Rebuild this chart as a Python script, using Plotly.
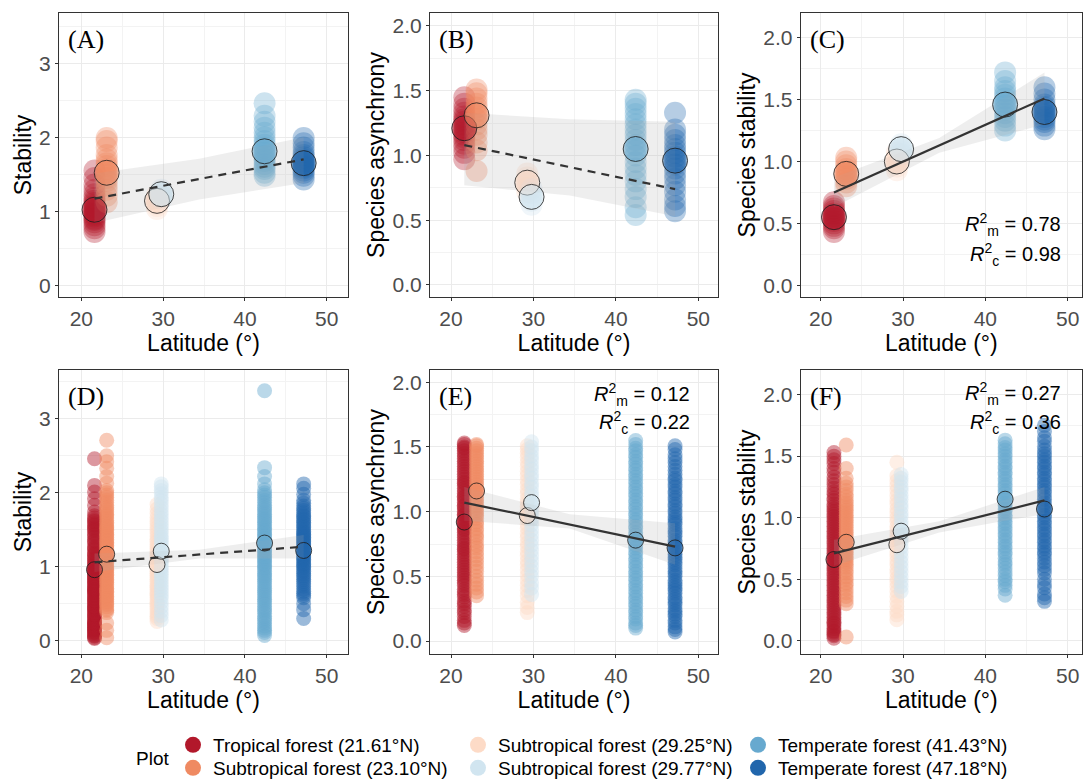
import plotly.graph_objects as go

W, H = 1083, 780

# ---------------------------------------------------------------- sites
SITE_NAMES = [
    "Tropical forest (21.61°N)",
    "Subtropical forest (23.10°N)",
    "Subtropical forest (29.25°N)",
    "Subtropical forest (29.77°N)",
    "Temperate forest (41.43°N)",
    "Temperate forest (47.18°N)",
]
SITE_LAT = [21.61, 23.10, 29.25, 29.77, 42.40, 47.18]
SITE_COLORS = ["#B2182B", "#EF8A62", "#FDDBC7", "#D1E5F0", "#67A9CF", "#2166AC"]

FIT_LAT = [21.61, 47.18]
BAND_LAT = [21.61, 34.40, 47.18]

# ---------------------------------------------------------------- (A) community stability, plot level
A_POINTS = [
    [0.72, 0.77, 0.81, 0.85, 0.88, 0.90, 0.93, 0.95, 0.97, 0.99, 1.01, 1.03, 1.06, 1.08, 1.11, 1.14, 1.18, 1.23, 1.29, 1.36, 1.45, 1.55],
    [1.12, 1.21, 1.29, 1.35, 1.41, 1.45, 1.49, 1.53, 1.57, 1.61, 1.65, 1.70, 1.76, 1.86, 1.95, 1.99],
    [1.03, 1.07, 1.10, 1.13, 1.16, 1.19, 1.22],
    [1.17, 1.20, 1.23, 1.26, 1.29],
    [1.48, 1.52, 1.57, 1.60, 1.64, 1.68, 1.71, 1.75, 1.79, 1.82, 1.86, 1.90, 1.95, 2.00, 2.06, 2.13, 2.21, 2.29, 2.46],
    [1.43, 1.48, 1.52, 1.55, 1.58, 1.60, 1.62, 1.64, 1.66, 1.68, 1.70, 1.73, 1.76, 1.80, 1.86, 1.92, 1.99],
]
A_MEANS = [1.02, 1.52, 1.14, 1.23, 1.81, 1.65]
A_FIT = [1.17, 1.70]
A_BAND_LO = [0.84, 1.16, 1.38]
A_BAND_HI = [1.51, 1.71, 2.00]

# ---------------------------------------------------------------- (B) species asynchrony, plot level
B_POINTS = [
    [0.97, 1.02, 1.06, 1.09, 1.12, 1.14, 1.16, 1.18, 1.20, 1.22, 1.24, 1.26, 1.28, 1.30, 1.33, 1.36, 1.40, 1.45],
    [0.88, 1.04, 1.10, 1.16, 1.20, 1.24, 1.28, 1.31, 1.34, 1.37, 1.40, 1.44, 1.48, 1.51],
    [0.72, 0.75, 0.78, 0.80, 0.83, 0.86],
    [0.62, 0.65, 0.68, 0.71, 0.74],
    [0.54, 0.60, 0.68, 0.74, 0.80, 0.85, 0.90, 0.95, 1.00, 1.04, 1.08, 1.12, 1.16, 1.20, 1.24, 1.28, 1.32, 1.36, 1.40, 1.43],
    [0.57, 0.61, 0.66, 0.72, 0.77, 0.82, 0.86, 0.90, 0.93, 0.96, 0.99, 1.02, 1.05, 1.08, 1.12, 1.16, 1.20, 1.33],
]
B_MEANS = [1.21, 1.31, 0.79, 0.68, 1.05, 0.96]
B_FIT = [1.08, 0.74]
B_BAND_LO = [0.77, 0.69, 0.53]
B_BAND_HI = [1.33, 1.28, 1.26]

# ---------------------------------------------------------------- (C) species stability, plot level
C_POINTS = [
    [0.43, 0.46, 0.48, 0.50, 0.52, 0.54, 0.55, 0.56, 0.58, 0.60, 0.62, 0.64, 0.67],
    [0.80, 0.83, 0.86, 0.88, 0.90, 0.92, 0.94, 0.97, 1.00, 1.03],
    [0.93, 0.96, 0.99, 1.01, 1.04, 1.07],
    [1.06, 1.08, 1.10, 1.12, 1.14],
    [1.25, 1.29, 1.33, 1.36, 1.39, 1.42, 1.45, 1.48, 1.51, 1.54, 1.57, 1.60, 1.65, 1.72],
    [1.26, 1.29, 1.32, 1.34, 1.36, 1.38, 1.40, 1.42, 1.44, 1.46, 1.50, 1.55, 1.60],
]
C_MEANS = [0.55, 0.90, 1.00, 1.10, 1.46, 1.40]
C_FIT = [0.75, 1.51]
C_BAND_LO = [0.63, 1.07, 1.30]
C_BAND_HI = [0.87, 1.19, 1.72]

# ---------------------------------------------------------------- (D) community stability, quadrat level
D_POINTS = [
    [0.03, 0.04, 0.06, 0.07, 0.09, 0.11, 0.12, 0.14, 0.15, 0.17, 0.18, 0.20, 0.21, 0.23, 0.24, 0.25, 0.27, 0.29,
     0.31, 0.33, 0.35, 0.36, 0.38, 0.41, 0.43, 0.44, 0.46, 0.47, 0.50, 0.52, 0.54, 0.55, 0.57, 0.59, 0.61, 0.63,
     0.65, 0.67, 0.68, 0.70, 0.71, 0.73, 0.75, 0.77, 0.79, 0.80, 0.82, 0.84, 0.86, 0.87, 0.89, 0.91, 0.93, 0.95,
     0.96, 0.99, 1.01, 1.03, 1.05, 1.08, 1.10, 1.12, 1.15, 1.17, 1.19, 1.23, 1.25, 1.27, 1.31, 1.34, 1.36, 1.40,
     1.43, 1.45, 1.49, 1.51, 1.53, 1.56, 1.58, 1.61, 1.63, 1.66, 1.69, 1.74, 1.83, 1.92, 2.01, 2.10, 2.46],
    [0.04, 0.14, 0.24, 0.38, 0.41, 0.43, 0.46, 0.49, 0.51, 0.53, 0.56, 0.58, 0.60, 0.62, 0.65, 0.67, 0.69, 0.71,
     0.74, 0.76, 0.79, 0.81, 0.83, 0.85, 0.88, 0.90, 0.92, 0.95, 0.97, 0.99, 1.01, 1.04, 1.06, 1.09, 1.11, 1.13,
     1.16, 1.18, 1.20, 1.22, 1.24, 1.27, 1.29, 1.31, 1.33, 1.35, 1.37, 1.40, 1.42, 1.44, 1.46, 1.49, 1.51, 1.53,
     1.55, 1.58, 1.60, 1.63, 1.66, 1.69, 1.71, 1.74, 1.77, 1.80, 1.83, 1.87, 1.90, 1.94, 1.97, 2.00, 2.03, 2.13,
     2.22, 2.33, 2.42, 2.50, 2.71],
    [0.26, 0.30, 0.33, 0.36, 0.39, 0.43, 0.46, 0.49, 0.52, 0.55, 0.58, 0.61, 0.63, 0.66, 0.69, 0.72, 0.74, 0.77,
     0.80, 0.83, 0.86, 0.88, 0.91, 0.94, 0.96, 0.99, 1.02, 1.05, 1.07, 1.10, 1.12, 1.15, 1.18, 1.21, 1.24, 1.27,
     1.30, 1.34, 1.37, 1.41, 1.45, 1.49, 1.53, 1.58, 1.62, 1.67, 1.72, 1.78, 1.84],
    [0.28, 0.34, 0.40, 0.46, 0.52, 0.57, 0.61, 0.66, 0.70, 0.74, 0.78, 0.82, 0.86, 0.90, 0.93, 0.97, 1.00, 1.04,
     1.07, 1.10, 1.13, 1.17, 1.20, 1.24, 1.27, 1.31, 1.34, 1.38, 1.41, 1.45, 1.49, 1.53, 1.57, 1.62, 1.66, 1.71,
     1.75, 1.80, 1.85, 1.90, 1.94, 1.99, 2.03, 2.08, 2.12],
    [0.07, 0.11, 0.14, 0.17, 0.20, 0.24, 0.27, 0.30, 0.33, 0.37, 0.40, 0.43, 0.46, 0.50, 0.53, 0.56, 0.59, 0.62,
     0.65, 0.68, 0.71, 0.74, 0.77, 0.80, 0.83, 0.86, 0.88, 0.91, 0.94, 0.97, 0.99, 1.02, 1.04, 1.07, 1.09, 1.12,
     1.14, 1.17, 1.19, 1.22, 1.24, 1.27, 1.29, 1.32, 1.34, 1.37, 1.39, 1.42, 1.44, 1.47, 1.49, 1.52, 1.54, 1.57,
     1.60, 1.63, 1.65, 1.68, 1.71, 1.74, 1.77, 1.80, 1.83, 1.87, 1.90, 1.94, 1.97, 2.00, 2.04, 2.12, 2.22, 2.34, 3.38],
    [0.30, 0.42, 0.50, 0.58, 0.61, 0.64, 0.67, 0.70, 0.74, 0.77, 0.80, 0.83, 0.86, 0.88, 0.91, 0.94, 0.96, 0.99,
     1.01, 1.03, 1.05, 1.08, 1.10, 1.12, 1.14, 1.16, 1.18, 1.20, 1.22, 1.24, 1.26, 1.28, 1.30, 1.32, 1.34, 1.36,
     1.38, 1.40, 1.42, 1.44, 1.46, 1.48, 1.50, 1.53, 1.55, 1.58, 1.60, 1.63, 1.65, 1.68, 1.70, 1.73, 1.76, 1.79,
     1.82, 1.86, 1.90, 1.98, 2.06, 2.12],
]
D_MEANS = [0.96, 1.17, 1.03, 1.21, 1.32, 1.22]
D_FIT = [1.06, 1.27]
D_BAND_LO = [0.93, 1.11, 1.11]
D_BAND_HI = [1.18, 1.23, 1.43]

# ---------------------------------------------------------------- (E) species asynchrony, quadrat level
E_POINTS = [
    [0.12, 0.14, 0.16, 0.19, 0.22, 0.24, 0.27, 0.29, 0.31, 0.34, 0.36, 0.38, 0.40, 0.43, 0.45, 0.47, 0.49, 0.51,
     0.53, 0.55, 0.57, 0.59, 0.61, 0.63, 0.65, 0.67, 0.69, 0.71, 0.72, 0.74, 0.76, 0.78, 0.80, 0.82, 0.84, 0.86,
     0.87, 0.89, 0.91, 0.93, 0.95, 0.97, 0.98, 1.00, 1.02, 1.04, 1.05, 1.07, 1.09, 1.11, 1.12, 1.14, 1.16, 1.18,
     1.20, 1.22, 1.23, 1.25, 1.27, 1.29, 1.31, 1.33, 1.35, 1.37, 1.39, 1.41, 1.43, 1.45, 1.47, 1.49, 1.50, 1.52, 1.53],
    [0.35, 0.38, 0.41, 0.44, 0.47, 0.50, 0.54, 0.57, 0.60, 0.63, 0.66, 0.69, 0.72, 0.74, 0.77, 0.80, 0.82, 0.85,
     0.87, 0.90, 0.92, 0.95, 0.97, 0.99, 1.01, 1.03, 1.05, 1.07, 1.09, 1.11, 1.13, 1.15, 1.17, 1.19, 1.21, 1.23,
     1.25, 1.27, 1.29, 1.31, 1.33, 1.35, 1.37, 1.39, 1.41, 1.43, 1.45, 1.47, 1.49, 1.51, 1.52],
    [0.22, 0.26, 0.30, 0.35, 0.39, 0.43, 0.47, 0.51, 0.55, 0.59, 0.62, 0.66, 0.69, 0.73, 0.76, 0.80, 0.83, 0.87,
     0.90, 0.94, 0.97, 1.01, 1.04, 1.07, 1.10, 1.14, 1.17, 1.21, 1.24, 1.28, 1.31, 1.35, 1.38, 1.42, 1.45, 1.48, 1.51],
    [0.36, 0.41, 0.45, 0.50, 0.54, 0.58, 0.62, 0.66, 0.70, 0.74, 0.78, 0.82, 0.86, 0.90, 0.94, 0.98, 1.01, 1.05,
     1.08, 1.12, 1.15, 1.19, 1.22, 1.26, 1.29, 1.33, 1.36, 1.40, 1.43, 1.47, 1.50, 1.54],
    [0.10, 0.12, 0.14, 0.17, 0.19, 0.22, 0.24, 0.27, 0.29, 0.32, 0.34, 0.37, 0.39, 0.42, 0.44, 0.47, 0.49, 0.52,
     0.54, 0.57, 0.59, 0.62, 0.64, 0.67, 0.69, 0.72, 0.74, 0.77, 0.79, 0.82, 0.84, 0.87, 0.89, 0.92, 0.94, 0.97,
     0.99, 1.02, 1.04, 1.07, 1.09, 1.12, 1.14, 1.17, 1.19, 1.22, 1.24, 1.27, 1.29, 1.32, 1.34, 1.37, 1.39, 1.42,
     1.44, 1.47, 1.49, 1.52, 1.55],
    [0.07, 0.09, 0.11, 0.14, 0.16, 0.19, 0.21, 0.23, 0.25, 0.28, 0.30, 0.32, 0.34, 0.37, 0.39, 0.41, 0.43, 0.45,
     0.47, 0.50, 0.52, 0.54, 0.56, 0.59, 0.61, 0.63, 0.65, 0.67, 0.69, 0.72, 0.74, 0.76, 0.78, 0.81, 0.83, 0.85,
     0.87, 0.90, 0.92, 0.94, 0.96, 0.99, 1.01, 1.04, 1.06, 1.09, 1.11, 1.14, 1.16, 1.19, 1.21, 1.24, 1.26, 1.29,
     1.32, 1.35, 1.38, 1.41, 1.44, 1.48, 1.51],
]
E_MEANS = [0.92, 1.16, 0.97, 1.07, 0.78, 0.72]
E_FIT = [1.07, 0.73]
E_BAND_LO = [0.93, 0.87, 0.59]
E_BAND_HI = [1.19, 0.98, 0.91]

# ---------------------------------------------------------------- (F) species stability, quadrat level
F_POINTS = [
    [0.02, 0.04, 0.05, 0.07, 0.08, 0.10, 0.12, 0.14, 0.15, 0.17, 0.19, 0.21, 0.23, 0.25, 0.27, 0.29, 0.31, 0.33,
     0.35, 0.37, 0.39, 0.41, 0.43, 0.45, 0.47, 0.49, 0.51, 0.53, 0.55, 0.57, 0.59, 0.61, 0.63, 0.65, 0.67, 0.69,
     0.71, 0.73, 0.75, 0.77, 0.79, 0.81, 0.83, 0.85, 0.87, 0.89, 0.91, 0.93, 0.95, 0.97, 0.99, 1.01, 1.03, 1.05,
     1.07, 1.09, 1.11, 1.14, 1.16, 1.19, 1.21, 1.24, 1.27, 1.30, 1.33, 1.37, 1.40, 1.44, 1.47, 1.50, 1.53],
    [0.03, 0.30, 0.33, 0.36, 0.39, 0.42, 0.45, 0.47, 0.50, 0.52, 0.55, 0.57, 0.60, 0.62, 0.64, 0.66, 0.68, 0.70,
     0.72, 0.74, 0.76, 0.78, 0.80, 0.82, 0.84, 0.86, 0.88, 0.90, 0.92, 0.94, 0.96, 0.98, 1.00, 1.02, 1.04, 1.06,
     1.08, 1.10, 1.12, 1.14, 1.17, 1.19, 1.22, 1.25, 1.28, 1.32, 1.40, 1.59],
    [0.17, 0.21, 0.24, 0.28, 0.32, 0.36, 0.40, 0.44, 0.48, 0.51, 0.55, 0.58, 0.62, 0.65, 0.69, 0.72, 0.76, 0.79,
     0.83, 0.86, 0.90, 0.93, 0.97, 1.00, 1.04, 1.07, 1.11, 1.14, 1.18, 1.22, 1.26, 1.30, 1.34, 1.45],
    [0.40, 0.44, 0.48, 0.52, 0.56, 0.60, 0.64, 0.68, 0.72, 0.76, 0.80, 0.83, 0.87, 0.90, 0.94, 0.97, 1.01, 1.04,
     1.08, 1.11, 1.15, 1.18, 1.22, 1.25, 1.29, 1.32, 1.35],
    [0.37, 0.42, 0.45, 0.48, 0.50, 0.53, 0.56, 0.59, 0.62, 0.64, 0.67, 0.70, 0.72, 0.75, 0.77, 0.80, 0.82, 0.85,
     0.87, 0.90, 0.92, 0.95, 0.97, 1.00, 1.02, 1.05, 1.07, 1.10, 1.12, 1.15, 1.17, 1.20, 1.22, 1.25, 1.27, 1.30,
     1.32, 1.35, 1.37, 1.40, 1.42, 1.45, 1.47, 1.50, 1.52, 1.55, 1.57, 1.60, 1.63],
    [0.32, 0.35, 0.38, 0.43, 0.46, 0.50, 0.55, 0.58, 0.61, 0.64, 0.67, 0.70, 0.72, 0.75, 0.77, 0.80, 0.82, 0.85,
     0.87, 0.90, 0.92, 0.95, 0.97, 1.00, 1.02, 1.05, 1.07, 1.10, 1.12, 1.15, 1.17, 1.20, 1.22, 1.25, 1.27, 1.30,
     1.32, 1.35, 1.37, 1.40, 1.42, 1.45, 1.47, 1.50, 1.52, 1.55, 1.58, 1.62, 1.65, 1.70, 1.75],
]
F_MEANS = [0.66, 0.80, 0.78, 0.89, 1.15, 1.07]
F_FIT = [0.71, 1.14]
F_BAND_LO = [0.61, 0.88, 1.03]
F_BAND_HI = [0.82, 0.97, 1.25]

# marginal / conditional R² of the mixed models
R2_M = [None, None, "0.78", None, "0.12", "0.27"]
R2_C = [None, None, "0.98", None, "0.22", "0.36"]

# ---------------------------------------------------------------- panel settings
panels = [
    dict(tag="(A)", ytitle="Stability", pts=A_POINTS, means=A_MEANS, fit=A_FIT, lo=A_BAND_LO, hi=A_BAND_HI,
         dashed=True, box=(59, 348, 13, 297), xr=[17.27, 52.6], yr=[-0.16, 3.68], dtick=1, fmt="d",
         size=22, msize=25, alpha=0.33, r2y=None),
    dict(tag="(B)", ytitle="Species asynchrony", pts=B_POINTS, means=B_MEANS, fit=B_FIT, lo=B_BAND_LO,
         hi=B_BAND_HI, dashed=True, box=(430, 718, 13, 297), xr=[17.45, 52.39], yr=[-0.093, 2.10], dtick=0.5,
         fmt=".1f", size=22, msize=25, alpha=0.33, r2y=None),
    dict(tag="(C)", ytitle="Species stability", pts=C_POINTS, means=C_MEANS, fit=C_FIT, lo=C_BAND_LO,
         hi=C_BAND_HI, dashed=False, box=(800.7, 1082, 13, 297), xr=[17.57, 51.74], yr=[-0.095, 2.2],
         dtick=0.5, fmt=".1f", size=22, msize=25, alpha=0.33, r2y=(225, 255), r2x=1063),
    dict(tag="(D)", ytitle="Stability", pts=D_POINTS, means=D_MEANS, fit=D_FIT, lo=D_BAND_LO, hi=D_BAND_HI,
         dashed=True, box=(59, 348, 370, 654), xr=[17.27, 52.6], yr=[-0.18, 3.66], dtick=1, fmt="d",
         size=15, msize=16, alpha=0.45, r2y=None),
    dict(tag="(E)", ytitle="Species asynchrony", pts=E_POINTS, means=E_MEANS, fit=E_FIT, lo=E_BAND_LO,
         hi=E_BAND_HI, dashed=False, box=(430, 718, 370, 654), xr=[17.45, 52.39], yr=[-0.1, 2.095],
         dtick=0.5, fmt=".1f", size=15, msize=16, alpha=0.45, r2y=(394, 422), r2x=692),
    dict(tag="(F)", ytitle="Species stability", pts=F_POINTS, means=F_MEANS, fit=F_FIT, lo=F_BAND_LO,
         hi=F_BAND_HI, dashed=False, box=(800.7, 1082, 370, 654), xr=[17.57, 51.74], yr=[-0.108, 2.2],
         dtick=0.5, fmt=".1f", size=15, msize=16, alpha=0.45, r2y=(393, 422), r2x=1063),
]

# legend slots: (column centre of the key, row centre) for each site
LEGEND_SLOTS = [(193, 745), (193, 768), (478, 745), (478, 768), (758, 745), (758, 768)]


def rgba(hex_color, alpha):
    h = hex_color.lstrip("#")
    r, g, b = int(h[0:2], 16), int(h[2:4], 16), int(h[4:6], 16)
    return f"rgba({r},{g},{b},{alpha})"


SANS = "Liberation Sans, Arial, sans-serif"
SERIF = "Liberation Serif, Times New Roman, serif"
GRID = "#EBEBEB"
GRID_MINOR = "#F3F3F3"
BORDER = "#333333"

fig = go.Figure()
annotations = []
layout_extra = {}

for i, p in enumerate(panels):
    n = i + 1
    xa, ya = ("x", "y") if n == 1 else (f"x{n}", f"y{n}")

    # individual observations, one column per site
    for s, vals in enumerate(p["pts"]):
        fig.add_trace(go.Scatter(
            x=[SITE_LAT[s]] * len(vals), y=vals, xaxis=xa, yaxis=ya, mode="markers",
            marker=dict(size=p["size"], color=rgba(SITE_COLORS[s], p["alpha"]), line=dict(width=0)),
            showlegend=False, hoverinfo="skip"))

    # confidence band of the fitted latitude effect
    fig.add_trace(go.Scatter(
        x=BAND_LAT + BAND_LAT[::-1], y=p["hi"] + p["lo"][::-1], xaxis=xa, yaxis=ya,
        mode="lines", fill="toself", fillcolor="rgba(170,170,170,0.2)", line=dict(width=0),
        showlegend=False, hoverinfo="skip"))

    # site means
    fig.add_trace(go.Scatter(
        x=SITE_LAT, y=p["means"], xaxis=xa, yaxis=ya, mode="markers",
        marker=dict(size=p["msize"], color=[rgba(c, 0.5) for c in SITE_COLORS],
                    line=dict(color="#1A1A1A", width=0.8)),
        showlegend=False, hoverinfo="skip"))

    # fitted line
    fig.add_trace(go.Scatter(
        x=FIT_LAT, y=p["fit"], xaxis=xa, yaxis=ya, mode="lines",
        line=dict(color=BORDER, width=2.2, dash="8px,6px" if p["dashed"] else "solid"),
        showlegend=False, hoverinfo="skip"))

    x0, x1, y0, y1 = p["box"]
    axis_common = dict(
        showline=True, mirror=True, linecolor=BORDER, linewidth=1,
        ticks="outside", ticklen=3, tickcolor=BORDER, tickwidth=1,
        showgrid=True, gridcolor=GRID, gridwidth=1, zeroline=False,
        tickfont=dict(family=SANS, size=21, color="#4D4D4D"),
    )
    layout_extra["xaxis" if n == 1 else f"xaxis{n}"] = dict(
        axis_common, domain=[x0 / W, x1 / W], range=p["xr"], anchor=ya,
        tickmode="linear", tick0=20, dtick=10,
        minor=dict(dtick=5, tick0=20, showgrid=True, gridcolor=GRID_MINOR, gridwidth=0.6, ticks=""),
        title=dict(text="Latitude (°)", font=dict(family=SANS, size=23, color="black"), standoff=0),
    )
    layout_extra["yaxis" if n == 1 else f"yaxis{n}"] = dict(
        axis_common, domain=[1 - y1 / H, 1 - y0 / H], range=p["yr"], anchor=xa,
        tickmode="linear", tick0=0, dtick=p["dtick"], tickformat=p["fmt"],
        minor=dict(dtick=p["dtick"] / 2, tick0=0, showgrid=True, gridcolor=GRID_MINOR, gridwidth=0.6, ticks=""),
        title=dict(text=p["ytitle"], font=dict(family=SANS, size=23, color="black"), standoff=1),
    )

    annotations.append(dict(
        text=p["tag"], xref="paper", yref="paper", x=(x0 + 7) / W, y=1 - (y0 + 26) / H,
        xanchor="left", yanchor="middle", showarrow=False,
        font=dict(family=SERIF, size=26, color="black")))

    if R2_M[i] is not None:
        ym, yc = p["r2y"]
        annotations.append(dict(
            text=f"<i>R</i><sup>2</sup><sub>m</sub> = {R2_M[i]}", xref="paper", yref="paper",
            x=p["r2x"] / W, y=1 - ym / H, xanchor="right", yanchor="middle", showarrow=False,
            font=dict(family=SANS, size=20, color="black")))
        annotations.append(dict(
            text=f"<i>R</i><sup>2</sup><sub>c</sub> = {R2_C[i]}", xref="paper", yref="paper",
            x=p["r2x"] / W, y=1 - yc / H, xanchor="right", yanchor="middle", showarrow=False,
            font=dict(family=SANS, size=20, color="black")))

# legend: one key per site, laid out in three columns of two rows
for s in range(len(SITE_NAMES)):
    lid = "legend" if s == 0 else f"legend{s + 1}"
    fig.add_trace(go.Scatter(
        x=[None], y=[None], mode="markers", name=SITE_NAMES[s], legend=lid,
        marker=dict(size=16, color=SITE_COLORS[s]), showlegend=True, hoverinfo="skip"))
    cx, cy = LEGEND_SLOTS[s]
    layout_extra[lid] = dict(
        x=(cx - 20) / W, xanchor="left", y=1 - cy / H, yanchor="middle",
        orientation="v", itemsizing="trace", bgcolor="rgba(0,0,0,0)", borderwidth=0,
        font=dict(family=SANS, size=19, color="black"), itemclick=False, itemdoubleclick=False,
    )

annotations.append(dict(
    text="Plot", xref="paper", yref="paper", x=152 / W, y=1 - 758 / H,
    xanchor="center", yanchor="middle", showarrow=False,
    font=dict(family=SANS, size=19, color="black")))

fig.update_layout(
    width=W, height=H, margin=dict(l=0, r=0, t=0, b=0, autoexpand=False),
    paper_bgcolor="white", plot_bgcolor="white",
    font=dict(family=SANS),
    annotations=annotations,
    showlegend=True,
    **layout_extra,
)

fig.write_html("out.html")
